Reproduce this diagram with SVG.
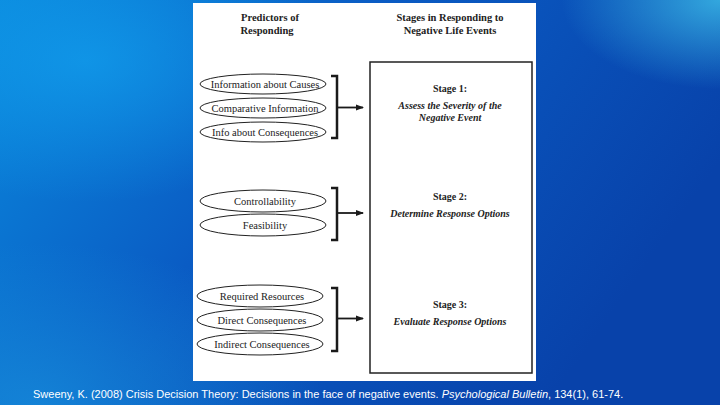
<svg xmlns="http://www.w3.org/2000/svg" width="720" height="405" viewBox="0 0 720 405">
<defs>
<linearGradient id="bg" x1="0" y1="0" x2="1" y2="0.4">
<stop offset="0" stop-color="#0a88dc"/>
<stop offset="0.45" stop-color="#0a5cc4"/>
<stop offset="1" stop-color="#0842aa"/>
</linearGradient>
<radialGradient id="glow1" cx="0.12" cy="0.15" r="0.35">
<stop offset="0" stop-color="#12a0ee" stop-opacity="0.7"/>
<stop offset="1" stop-color="#12a0ee" stop-opacity="0"/>
</radialGradient>
<radialGradient id="glow2" cx="1" cy="0" r="0.22">
<stop offset="0" stop-color="#3ab8e6" stop-opacity="0.85"/>
<stop offset="1" stop-color="#3ab8e6" stop-opacity="0"/>
</radialGradient>
<radialGradient id="glow3" cx="0.05" cy="1" r="0.4">
<stop offset="0" stop-color="#1890dc" stop-opacity="0.7"/>
<stop offset="1" stop-color="#1890dc" stop-opacity="0"/>
</radialGradient>
<marker id="ah" markerWidth="8" markerHeight="8" refX="7" refY="4" orient="auto" markerUnits="userSpaceOnUse">
<path d="M0,1 L8,4 L0,7 Z" fill="#1a1a1a"/>
</marker>
<style>
.hd{font-family:"Liberation Serif",serif;font-weight:bold;font-size:10.5px;fill:#222;text-anchor:middle}
.el{fill:#fff;stroke:#222;stroke-width:1}
.lb{font-family:"Liberation Serif",serif;font-size:10.5px;fill:#222;text-anchor:middle}
.st{font-family:"Liberation Serif",serif;font-weight:bold;font-size:10px;fill:#222;text-anchor:middle}
.si{font-family:"Liberation Serif",serif;font-weight:bold;font-style:italic;font-size:10px;fill:#222;text-anchor:middle}
.br{fill:none;stroke:#1a1a1a;stroke-width:2.5}
.ar{fill:none;stroke:#1a1a1a;stroke-width:1.8;marker-end:url(#ah)}
</style>
</defs>
<rect width="720" height="405" fill="url(#bg)"/>
<rect width="720" height="405" fill="url(#glow1)"/>
<rect width="720" height="405" fill="url(#glow2)"/>
<rect width="720" height="405" fill="url(#glow3)"/>
<rect x="193" y="3" width="343" height="378" fill="#fff"/>

<g id="headers">
<text class="hd" x="270" y="21">Predictors of</text>
<text class="hd" x="267" y="34">Responding</text>
<text class="hd" x="450" y="21">Stages in Responding to</text>
<text class="hd" x="450" y="34">Negative Life Events</text>
</g>

<g id="stages">
<rect x="370" y="62" width="162" height="311" fill="#fff" stroke="#222" stroke-width="1.5"/>
<text class="st" x="450" y="92">Stage 1:</text>
<text class="si" x="450" y="109">Assess the Severity of the</text>
<text class="si" x="450" y="121">Negative Event</text>
<text class="st" x="450" y="200">Stage 2:</text>
<text class="si" x="450" y="217">Determine Response Options</text>
<text class="st" x="450" y="308">Stage 3:</text>
<text class="si" x="450" y="325">Evaluate Response Options</text>
</g>

<g id="n1"><ellipse class="el" cx="263" cy="84" rx="63" ry="10"/><text class="lb" x="265" y="87.5">Information about Causes</text></g>
<g id="n2"><ellipse class="el" cx="263" cy="108" rx="63" ry="10"/><text class="lb" x="265" y="111.5">Comparative Information</text></g>
<g id="n3"><ellipse class="el" cx="263" cy="132" rx="63" ry="10"/><text class="lb" x="265" y="135.5">Info about Consequences</text></g>
<g id="n4"><ellipse class="el" cx="263" cy="201" rx="63" ry="11"/><text class="lb" x="265" y="204.5">Controllability</text></g>
<g id="n5"><ellipse class="el" cx="263" cy="225" rx="63" ry="11"/><text class="lb" x="265" y="228.5">Feasibility</text></g>
<g id="n6"><ellipse class="el" cx="260" cy="296" rx="63" ry="11"/><text class="lb" x="262" y="299.5">Required Resources</text></g>
<g id="n7"><ellipse class="el" cx="260" cy="320" rx="63" ry="11"/><text class="lb" x="262" y="323.5">Direct Consequences</text></g>
<g id="n8"><ellipse class="el" cx="260" cy="344" rx="63" ry="11"/><text class="lb" x="262" y="347.5">Indirect Consequences</text></g>

<g id="connectors">
<path class="br" d="M331,76 H337 V138 H331"/>
<path class="ar" d="M337,107.5 H363"/>
<path class="br" d="M331,188 H337 V240 H331"/>
<path class="ar" d="M337,213 H363"/>
<path class="br" d="M331,288 H337 V351 H331"/>
<path class="ar" d="M337,318.5 H363"/>
</g>

<text x="33" y="398" font-family="Liberation Sans, Arial, sans-serif" font-size="11" fill="#fff">Sweeny, K. (2008) Crisis Decision Theory: Decisions in the face of negative events. <tspan font-style="italic">Psychological Bulletin</tspan>, 134(1), 61-74.</text>
</svg>
